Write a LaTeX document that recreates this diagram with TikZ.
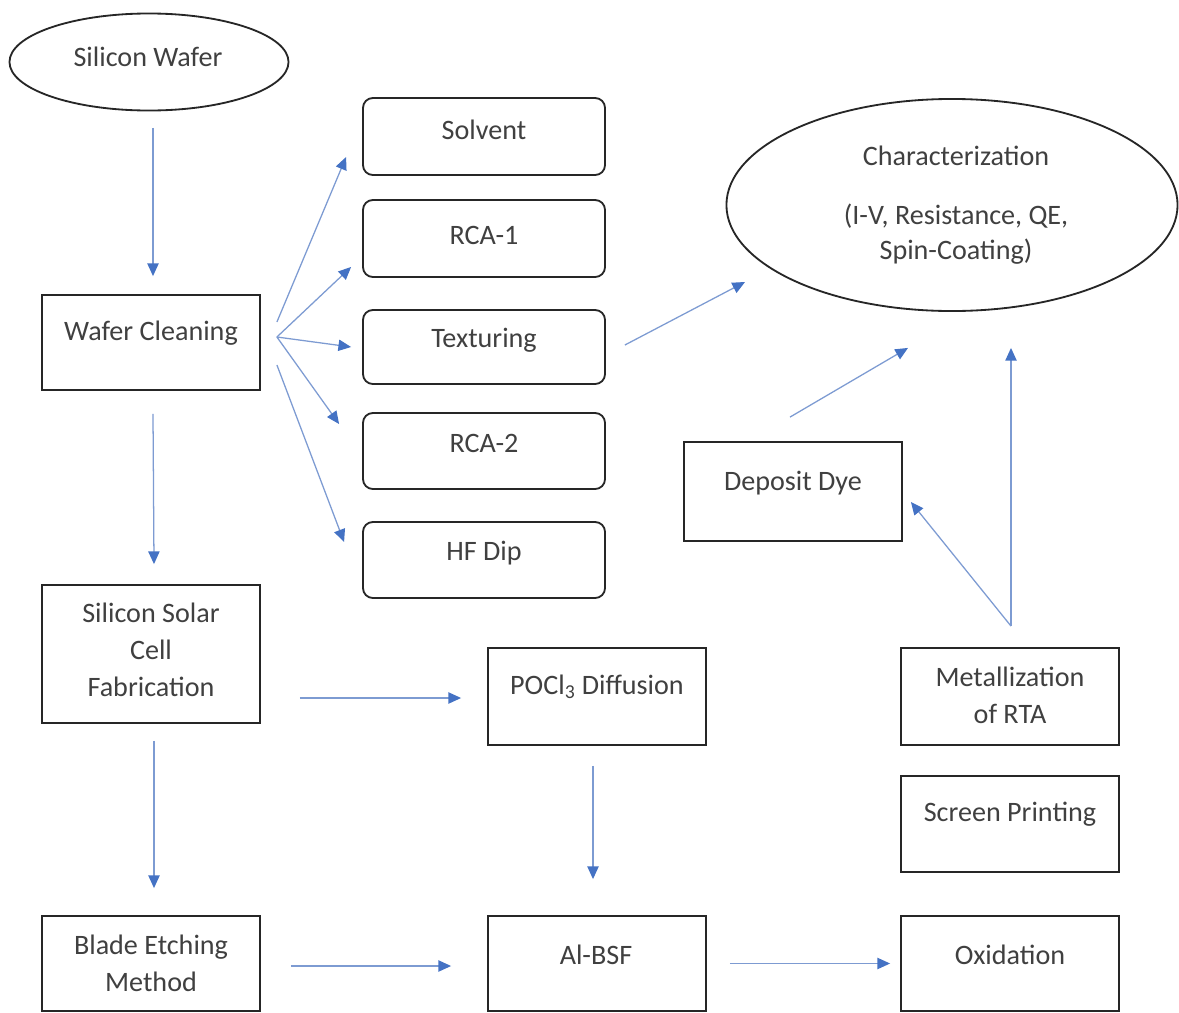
\documentclass[tikz,border=0pt]{standalone}
\usepackage{fontspec}
\setmainfont{Carlito}
\usetikzlibrary{arrows.meta,shapes.geometric,calc,fit}
\definecolor{tipblue}{RGB}{68,114,196}
\definecolor{lineblue}{RGB}{125,155,210}
\definecolor{txtgray}{RGB}{64,64,64}
\begin{document}
\begin{tikzpicture}[x=0.025cm,y=-0.025cm,
  every node/.style={font=\fontsize{20}{26.5}\selectfont, text=txtgray},
  box/.style={draw=black!85, line width=1.3pt, inner sep=0pt},
  rbox/.style={box, rounded corners=7pt},
  oval/.style={draw=black!85, line width=1.3pt, ellipse, inner sep=0pt},
  arr/.style={draw=lineblue, line width=0.9pt, -{Triangle[length=9pt,width=8pt,color=tipblue]}},
  lbl/.style={align=center, inner sep=0pt}]
\useasboundingbox[fill=white] (0,0) rectangle (1179,1013);

% shapes
\node[oval, minimum width=6.975cm, minimum height=2.425cm] (sw) at (149,62) {};
\node[box, fit={(42,295) (260,390)}] (wc) {};
\node[rbox, fit={(363,98) (605,175)}] (sol) {};
\node[rbox, fit={(363,200) (605,277)}] (rca1) {};
\node[rbox, fit={(363,310) (605,384)}] (tex) {};
\node[rbox, fit={(363,413) (605,489)}] (rca2) {};
\node[rbox, fit={(363,522) (605,598)}] (hf) {};
\node[oval, minimum width=11.275cm, minimum height=5.3cm] (char) at (952,205) {};
\node[box, fit={(684,442) (902,541)}] (dd) {};
\node[box, fit={(42,585) (260,723)}] (sscf) {};
\node[box, fit={(42,916) (260,1011)}] (be) {};
\node[box, fit={(488,648) (706,745)}] (pocl) {};
\node[box, fit={(488,916) (706,1011)}] (albsf) {};
\node[box, fit={(901,648) (1119,745)}] (met) {};
\node[box, fit={(901,776) (1119,872)}] (sp) {};
\node[box, fit={(901,916) (1119,1011)}] (ox) {};

% labels
\node[lbl] (sw-t) at (148,57) {Silicon Wafer};
\node[lbl] (wc-t) at (151,333) {Wafer Cleaning};
\node[lbl] (sol-t) at (484,130) {Solvent};
\node[lbl] (rca1-t) at (484,235) {RCA-1};
\node[lbl] (tex-t) at (484,340) {Texturing};
\node[lbl] (rca2-t) at (484,443) {RCA-2};
\node[lbl] (hf-t) at (484,553) {HF Dip};
\node[lbl, font=\fontsize{20}{25}\selectfont] (char-t) at (956,205) {Characterization\\[17pt](I-V, Resistance, QE,\\Spin-Coating)};
\node[lbl] (dd-t) at (793,483) {Deposit Dye};
\node[lbl] (sscf-t) at (151,650) {Silicon Solar\\Cell\\Fabrication};
\node[lbl] (be-t) at (151,963) {Blade Etching\\Method};
\node[lbl] (pocl-t) at (597,687) {POCl\textsubscript{3} Diffusion};
\node[lbl] (albsf-t) at (596,955) {Al-BSF};
\node[lbl] (met-t) at (1010,695) {Metallization\\of RTA};
\node[lbl] (sp-t) at (1010,814) {Screen Printing};
\node[lbl] (ox-t) at (1010,955) {Oxidation};

% connectors
\draw[arr] ($(sw.south)+(4,16.5)$) -- ($(wc.north)+(2,-18)$);
\draw[arr] ($(wc.south)+(2,23)$) -- ($(sscf.north)+(3,-20)$);
\draw[arr] ($(sscf.south)+(3,17)$) -- ($(be.north)+(3,-27)$);
\draw[arr] ($(wc.east)+(16,-20.5)$) -- ($(sol.west)+(-16,20.5)$);
\draw[arr] ($(wc.east)+(16,-5.5)$) -- ($(rca1.west)+(-11,28.5)$);
\draw[arr] ($(wc.east)+(16,-5.5)$) -- ($(tex.west)+(-11,0)$);
\draw[arr] ($(wc.east)+(16,-5.5)$) -- ($(rca2.west)+(-23,-27)$);
\draw[arr] ($(wc.east)+(16,22.5)$) -- ($(hf.west)+(-18,-18)$);
\draw[arr] ($(tex.east)+(19,-2)$) -- ($(char.west)+(19.5,77)$);
\draw[arr] ($(dd.north)+(-3,-24)$) -- ($(char.south)+(-44,36)$);
\draw[arr] ($(met.north)+(1,-21)$) -- ($(char.south)+(59,36)$);
\draw[arr] ($(met.north)+(1,-21)$) -- ($(dd.east)+(8,10.5)$);
\draw[arr] ($(sscf.east)+(39,44)$) -- ($(pocl.west)+(-26,1.5)$);
\draw[arr] ($(pocl.south)+(-4,20)$) -- ($(albsf.north)+(-4,-36)$);
\draw[arr] ($(be.east)+(30,2.5)$) -- ($(albsf.west)+(-36,2.5)$);
\draw[arr] ($(albsf.east)+(23,0)$) -- ($(ox.west)+(-10,0)$);
\end{tikzpicture}
\end{document}
